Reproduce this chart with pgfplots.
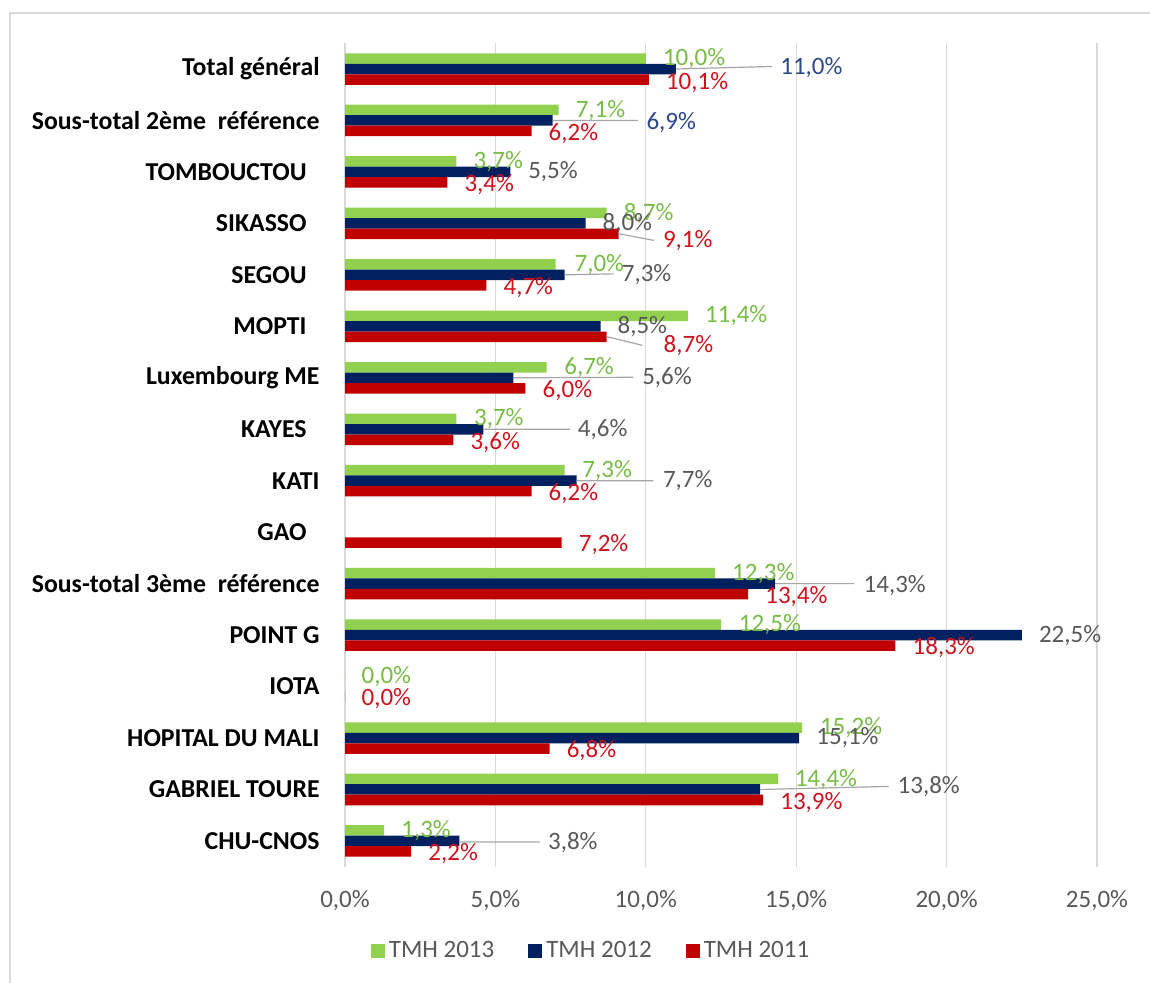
\documentclass[border=0pt]{standalone}
\usepackage{fontspec}
\setmainfont{Carlito}
\usepackage{pgfplots}
\pgfplotsset{compat=1.18}
\definecolor{cgreen}{HTML}{92D050}
\definecolor{cnavy}{HTML}{002060}
\definecolor{cred}{HTML}{C00000}
\definecolor{lgreen}{RGB}{120,188,70}
\definecolor{lred}{RGB}{204,20,30}
\definecolor{lnavy}{RGB}{44,72,140}
\definecolor{lgray}{HTML}{595959}
\definecolor{gridgray}{HTML}{D9D9D9}
\definecolor{leadgray}{HTML}{A6A6A6}
\begin{document}
\begin{tikzpicture}
\useasboundingbox (0,0) rectangle (575pt,491.5pt);
\fill[white] (0,0) rectangle (575pt,491.5pt);
\draw[gridgray, line width=1.3pt] (5pt,0) -- (5pt,485pt) -- (575pt,485pt);
\begin{axis}[
  at={(172.5pt,58.15pt)}, anchor=south west,
  scale only axis, width=376pt, height=411.7pt,
  xmin=0, xmax=25, ymin=-0.5, ymax=15.5,
  clip=false,
  axis line style={draw=none},
  major tick length=0pt, tick style={draw=none},
  xmajorgrids, grid style={gridgray, line width=0.6pt},
  xtick={0,5,10,15,20,25},
  xticklabels={{0,0\%},{5,0\%},{10,0\%},{15,0\%},{20,0\%},{25,0\%}},
  xticklabel style={font=\fontsize{12.5}{15}\selectfont, text=lgray, inner sep=0pt, yshift=-11.5pt},
  ytick={0,...,15},
  yticklabels={CHU-CNOS, GABRIEL TOURE, HOPITAL DU MALI, IOTA, POINT G,
    Sous-total 3ème\hspace{0.45em}référence, GAO\hspace*{6.5pt}, KATI, KAYES\hspace*{6.5pt},
    Luxembourg ME, MOPTI\hspace*{6.5pt}, SEGOU\hspace*{6.5pt}, SIKASSO\hspace*{6.5pt},
    TOMBOUCTOU\hspace*{6.5pt}, Sous-total 2ème\hspace{0.45em}référence, Total général},
  yticklabel style={font=\bfseries\fontsize{12.9}{15}\selectfont, text=black, inner sep=0pt, xshift=-12.5pt},
  legend columns=3,
  legend style={at={(0.3285,-0.1024)}, anchor=center, draw=none, fill=none,
    font=\fontsize{12.5}{15}\selectfont, text=lgray,
    /tikz/every even column/.append style={column sep=15pt}},
  legend image code/.code={\fill[#1] (0pt,-3.5pt) rectangle (7pt,3.5pt);},
]
\addplot[xbar, bar width=5.25pt, bar shift=5.25pt, fill=cgreen, draw=none] coordinates {
 (10.0,15) (7.1,14) (3.7,13) (8.7,12) (7.0,11) (11.4,10) (6.7,9) (3.7,8) (7.3,7)
 (12.3,5) (12.5,4) (0.0,3) (15.2,2) (14.4,1) (1.3,0)};
\addlegendentry{TMH 2013}
\addplot[xbar, bar width=5.25pt, bar shift=0pt, fill=cnavy, draw=none] coordinates {
 (11.0,15) (6.9,14) (5.5,13) (8.0,12) (7.3,11) (8.5,10) (5.6,9) (4.6,8) (7.7,7)
 (14.3,5) (22.5,4) (15.1,2) (13.8,1) (3.8,0)};
\addlegendentry{TMH 2012}
\addplot[xbar, bar width=5.25pt, bar shift=-5.25pt, fill=cred, draw=none] coordinates {
 (10.1,15) (6.2,14) (3.4,13) (9.1,12) (4.7,11) (8.7,10) (6.0,9) (3.6,8) (6.2,7)
 (7.2,6) (13.4,5) (18.3,4) (0.0,3) (6.8,2) (13.9,1) (2.2,0)};
\addlegendentry{TMH 2011}
% leader lines
\addplot[forget plot, leadgray, line width=0.6pt, mark=none, unbounded coords=jump] coordinates {
 (11.0,15) (14.19,15.05) (nan,nan)
 (6.9,14) (9.74,14.0) (nan,nan)
 (9.1,11.80) (10.27,11.67) (nan,nan)
 (7.3,11) (8.93,11.02) (nan,nan)
 (8.7,9.80) (9.89,9.63) (nan,nan)
 (5.6,9) (9.59,9.01) (nan,nan)
 (4.6,8) (7.48,8.0) (nan,nan)
 (7.7,7) (10.25,7.0) (nan,nan)
 (14.3,5) (16.93,5.0) (nan,nan)
 (13.8,1) (18.07,1.06) (nan,nan)
 (3.8,-0.02) (6.48,-0.02)};
% green labels
\addplot[forget plot, draw=none, mark=none, nodes near coords, point meta=explicit symbolic,
  nodes near coords style={anchor=west, inner sep=0pt, font=\fontsize{12.5}{15}\selectfont, text=lgreen}] coordinates {
 (10.56,15.20) [10,0\%] (7.66,14.20) [7,1\%] (4.26,13.20) [3,7\%] (9.26,12.20) [8,7\%]
 (7.62,11.20) [7,0\%] (11.96,10.20) [11,4\%] (7.28,9.20) [6,7\%] (4.28,8.20) [3,7\%]
 (7.88,7.20) [7,3\%] (12.86,5.20) [12,3\%] (13.08,4.20) [12,5\%] (0.54,3.20) [0,0\%]
 (15.78,2.20) [15,2\%] (14.94,1.20) [14,4\%] (1.86,0.20) [1,3\%]};
% navy labels in blue
\addplot[forget plot, draw=none, mark=none, nodes near coords, point meta=explicit symbolic,
  nodes near coords style={anchor=west, inner sep=0pt, font=\fontsize{12.5}{15}\selectfont, text=lnavy}] coordinates {
 (14.46,15.03) [11,0\%] (10.01,13.96) [6,9\%]};
% navy labels in gray
\addplot[forget plot, draw=none, mark=none, nodes near coords, point meta=explicit symbolic,
  nodes near coords style={anchor=west, inner sep=0pt, font=\fontsize{12.5}{15}\selectfont, text=lgray}] coordinates {
 (6.08,13.0) [5,5\%] (8.55,12.0) [8,0\%] (9.19,11.0) [7,3\%] (9.05,10.0) [8,5\%]
 (9.87,9.0) [5,6\%] (7.73,8.0) [4,6\%] (10.56,7.0) [7,7\%] (17.23,4.96) [14,3\%]
 (23.06,4.0) [22,5\%] (15.66,2.0) [15,1\%] (18.36,1.06) [13,8\%] (6.74,-0.04) [3,8\%]};
% red labels
\addplot[forget plot, draw=none, mark=none, nodes near coords, point meta=explicit symbolic,
  nodes near coords style={anchor=west, inner sep=0pt, font=\fontsize{12.5}{15}\selectfont, text=lred}] coordinates {
 (10.66,14.74) [10,1\%] (6.76,13.75) [6,2\%] (3.96,12.75) [3,4\%] (10.56,11.67) [9,1\%]
 (5.26,10.75) [4,7\%] (10.58,9.63) [8,7\%] (6.56,8.75) [6,0\%] (4.16,7.75) [3,6\%]
 (6.76,6.75) [6,2\%] (7.76,5.76) [7,2\%] (13.96,4.75) [13,4\%] (18.86,3.75) [18,3\%]
 (0.54,2.77) [0,0\%] (7.36,1.75) [6,8\%] (14.46,0.75) [13,9\%] (2.76,-0.25) [2,2\%]};
\end{axis}
\end{tikzpicture}
\end{document}
